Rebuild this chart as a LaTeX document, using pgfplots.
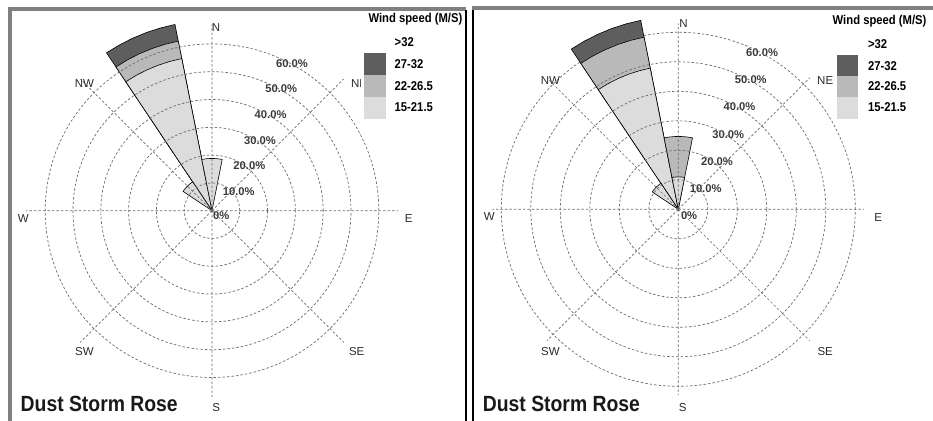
\documentclass[border=0pt]{standalone}
\usepackage{pgfplots}
\pgfplotsset{compat=1.18}
\usepgfplotslibrary{polar}
\usepackage{fontspec}
\setmainfont{Liberation Sans}
\newfontfamily\narrow[FakeStretch=0.88]{Liberation Sans}
\definecolor{cLight}{HTML}{DCDCDC}
\definecolor{cMed}{HTML}{B9B9B9}
\definecolor{cDark}{HTML}{5E5E5E}
\definecolor{frameg}{HTML}{808080}
\definecolor{gridc}{HTML}{6A6A6A}
\definecolor{txt}{HTML}{2A2A2A}
\definecolor{tick}{HTML}{383838}

% sectors (math angles: N = 90, counter-clockwise), radius = cumulative frequency (%)
\newcommand\secN[2]{\addplot[fill=#1, draw=black, line width=0.6bp] coordinates {(0,0) (78.75,#2) (83.25,#2) (87.75,#2) (92.25,#2) (96.75,#2) (101.25,#2) (0,0)};}
\newcommand\secNNW[2]{\addplot[fill=#1, draw=black, line width=0.6bp] coordinates {(0,0) (101.25,#2) (105.75,#2) (110.25,#2) (114.75,#2) (119.25,#2) (123.75,#2) (0,0)};}
\newcommand\secNW[2]{\addplot[fill=#1, draw=black, line width=0.6bp] coordinates {(0,0) (123.75,#2) (128.25,#2) (132.75,#2) (137.25,#2) (141.75,#2) (146.25,#2) (0,0)};}

\pgfplotsset{rose/.style={
  scale only axis, anchor=center,
  ymin=0,
  xtick={0,45,...,315},
  ytick={10,20,30,40,50,60},
  xticklabel=\empty, yticklabel=\empty,
  grid=major,
  major grid style={gridc, line width=0.7bp, dash pattern=on 2.5bp off 2bp},
  axis line style={draw=none},
  major tick length=0pt,
  clip=false,
  axis on top,
}}
\newcommand\ylab[2]{\node[anchor=north west, inner sep=0pt, yshift=-2.5bp, font=\fontsize{11.2bp}{13bp}\selectfont\bfseries, text=tick] at (axis cs:67.5,#1) {#2};}

\begin{document}
\begin{tikzpicture}
\path[use as bounding box] (0,0) rectangle (933bp,-421bp);

% ---------------- left rose ----------------
\begin{polaraxis}[rose, at={(212bp,-210.7bp)}, ymax=67, width=372.5bp, height=372.5bp]
\secNNW{cDark}{68.3}
\secNNW{cMed}{62.2}
\secNNW{cLight}{55.8}
\secN{cLight}{18.8}
\secNW{cLight}{12.5}
\node[anchor=north west, inner sep=0pt, xshift=1bp, yshift=-1bp, font=\fontsize{11.2bp}{13bp}\selectfont\bfseries, text=tick] at (axis cs:0,0) {0\%};
\ylab{10}{10.0\%}\ylab{20}{20.0\%}\ylab{30}{30.0\%}
\ylab{40}{40.0\%}\ylab{50}{50.0\%}\ylab{60}{60.0\%}
\end{polaraxis}

% ---------------- right rose ----------------
\begin{polaraxis}[rose, at={(678.3bp,-209.3bp)}, ymax=63, width=371.7bp, height=371.7bp]
\secNNW{cDark}{65.3}
\secNNW{cMed}{59.5}
\secNNW{cLight}{48.8}
\secN{cMed}{24.7}
\secN{cLight}{11.0}
\secNW{cLight}{10.6}
\node[anchor=north west, inner sep=0pt, xshift=2.5bp, yshift=-2.3bp, font=\fontsize{11.2bp}{13bp}\selectfont\bfseries, text=tick] at (axis cs:0,0) {0\%};
\ylab{10}{10.0\%}\ylab{20}{20.0\%}\ylab{30}{30.0\%}
\ylab{40}{40.0\%}\ylab{50}{50.0\%}\ylab{60}{60.0\%}
\end{polaraxis}

\begin{scope}[x=1bp, y=-1bp]
% frame
\draw[frameg, line width=3.7bp] (10.3,421) -- (10.3,8.7) -- (466,8.7);
\draw[frameg, line width=3.7bp] (472,8.2) -- (933,8.2);
\draw[black, line width=2.2bp] (466.2,10) -- (466.2,421);
\draw[black, line width=2.2bp] (472.8,10) -- (472.8,421);

% compass labels
\begin{scope}[every node/.style={inner sep=0pt, text=txt, font=\fontsize{11.5bp}{13bp}\selectfont}]
\node at (216,27.3) {N};
\node at (23.3,218.3) {W};
\node at (408.8,218.8) {E};
\node at (216.3,407.5) {S};
\node at (84.5,83.7) {NW};
\node at (359,83.5) {NE};
\node at (84.5,351.5) {SW};
\node at (356.7,351.5) {SE};
\node at (683.5,23.7) {N};
\node at (489.3,217) {W};
\node at (878.2,217.5) {E};
\node at (682.7,407.5) {S};
\node at (550.5,80.3) {NW};
\node at (825.2,80.3) {NE};
\node at (550.5,351.5) {SW};
\node at (825.2,351.5) {SE};
\end{scope}

% legend left
\fill[white] (361,11) rectangle (465,122);
\fill[cDark] (364,52.7) rectangle (386,75);
\fill[cMed] (364,75) rectangle (386,96.7);
\fill[cLight] (364,96.7) rectangle (386,119.3);
\begin{scope}[every node/.style={inner sep=0pt, text=black, font=\narrow\fontsize{12.8bp}{14bp}\selectfont\bfseries}]
\node[anchor=base east, font=\narrow\fontsize{12.8bp}{14bp}\selectfont\bfseries] at (462.5,22.7) {Wind speed (M/S)};
\node[anchor=base west] at (394.5,46.7) {>32};
\node[anchor=base west] at (394.5,68.3) {27-32};
\node[anchor=base west] at (394.5,90) {22-26.5};
\node[anchor=base west] at (394.5,111.7) {15-21.5};
% legend right
\node[anchor=base west, font=\narrow\fontsize{12.8bp}{14bp}\selectfont\bfseries] at (832.5,24.4) {Wind speed (M/S)};
\node[anchor=base west] at (867.8,48.3) {>32};
\node[anchor=base west] at (867.8,70) {27-32};
\node[anchor=base west] at (867.8,90.7) {22-26.5};
\node[anchor=base west] at (867.8,111.7) {15-21.5};
\end{scope}
\fill[cDark] (836.7,55) rectangle (858.3,76);
\fill[cMed] (836.7,76) rectangle (858.3,97.3);
\fill[cLight] (836.7,97.3) rectangle (858.3,119.3);

% titles
\node[anchor=base west, inner sep=0pt, text=black!90, font=\narrow\fontsize{22bp}{26bp}\selectfont\bfseries] at (20.5,411.5) {Dust Storm Rose};
\node[anchor=base west, inner sep=0pt, text=black!90, font=\narrow\fontsize{22bp}{26bp}\selectfont\bfseries] at (482.7,411.5) {Dust Storm Rose};
\end{scope}
\end{tikzpicture}
\end{document}
